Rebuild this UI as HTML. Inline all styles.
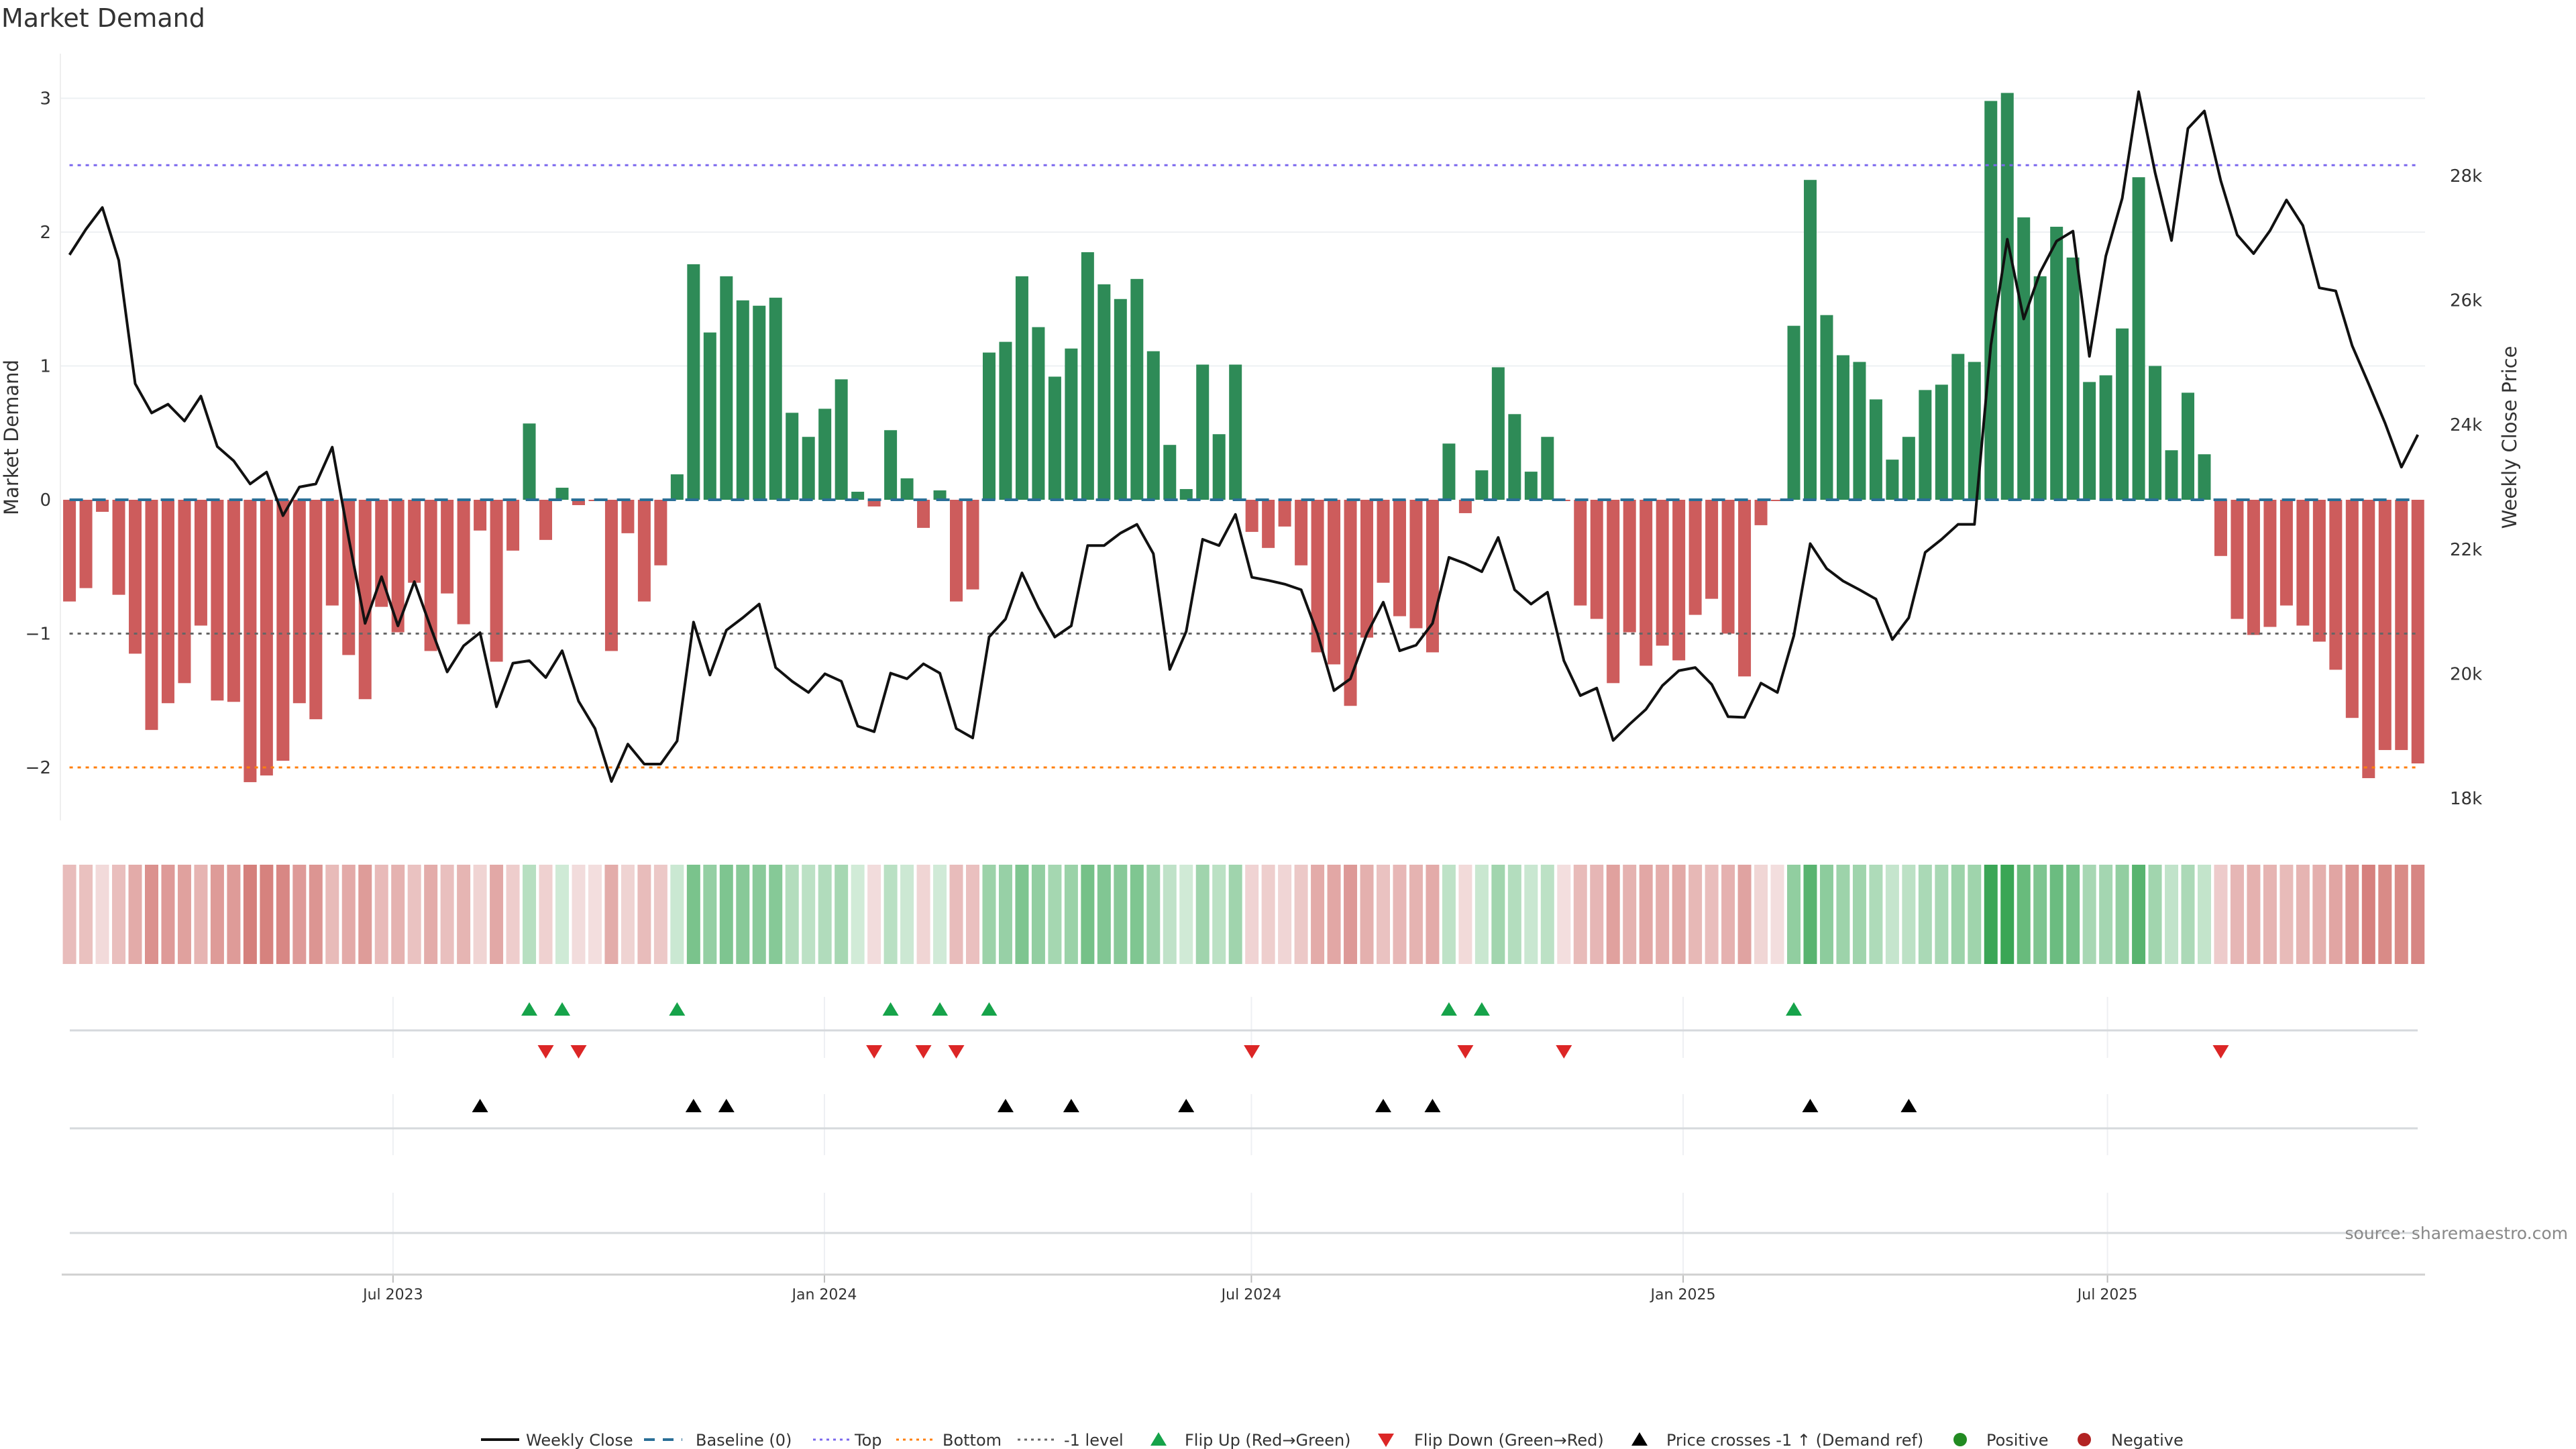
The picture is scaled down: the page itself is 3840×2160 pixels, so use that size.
<!DOCTYPE html>
<html><head><meta charset="utf-8"><style>
html,body{margin:0;padding:0;background:#fff;}
svg{display:block;font-family:"DejaVu Sans","Liberation Sans",sans-serif;}
</style></head><body>
<svg id="chart" width="3840" height="2160" viewBox="0 0 3840 2160" xmlns="http://www.w3.org/2000/svg">
<text x="2" y="40" font-size="38" fill="#333">Market Demand</text>
<g id="grid"></g><g id="refs"></g><g id="bars"></g><g id="line"></g><g id="heat"></g><g id="lower"></g><g id="axes"></g><g id="legend"></g>
<text x="3828" y="1847" font-size="25" fill="#888" text-anchor="end">source: sharemaestro.com</text>
</svg>
<script>
const demand = [-0.76,-0.66,-0.09,-0.71,-1.15,-1.72,-1.52,-1.37,-0.94,-1.50,-1.51,-2.11,-2.06,-1.95,-1.52,-1.64,-0.79,-1.16,-1.49,-0.80,-0.99,-0.62,-1.13,-0.70,-0.93,-0.23,-1.21,-0.38,0.57,-0.30,0.09,-0.04,-0.01,-1.13,-0.25,-0.76,-0.49,0.19,1.76,1.25,1.67,1.49,1.45,1.51,0.65,0.47,0.68,0.90,0.06,-0.05,0.52,0.16,-0.21,0.07,-0.76,-0.67,1.10,1.18,1.67,1.29,0.92,1.13,1.85,1.61,1.50,1.65,1.11,0.41,0.08,1.01,0.49,1.01,-0.24,-0.36,-0.20,-0.49,-1.14,-1.23,-1.54,-1.03,-0.62,-0.87,-0.96,-1.14,0.42,-0.10,0.22,0.99,0.64,0.21,0.47,-0.01,-0.79,-0.89,-1.37,-0.99,-1.24,-1.09,-1.20,-0.86,-0.74,-1.00,-1.32,-0.19,-0.01,1.30,2.39,1.38,1.08,1.03,0.75,0.30,0.47,0.82,0.86,1.09,1.03,2.98,3.04,2.11,1.67,2.04,1.81,0.88,0.93,1.28,2.41,1.00,0.37,0.80,0.34,-0.42,-0.89,-1.01,-0.95,-0.79,-0.94,-1.06,-1.27,-1.63,-2.08,-1.87,-1.87,-1.97];
const closeK = [26.73,27.14,27.49,26.64,24.66,24.19,24.33,24.06,24.46,23.65,23.42,23.05,23.24,22.54,23.00,23.05,23.64,22.18,20.81,21.56,20.77,21.48,20.74,20.03,20.45,20.66,19.47,20.17,20.21,19.94,20.37,19.56,19.12,18.27,18.87,18.55,18.55,18.92,20.83,19.98,20.70,20.90,21.12,20.10,19.88,19.70,20.00,19.88,19.16,19.07,20.01,19.92,20.16,20.01,19.12,18.97,20.59,20.88,21.62,21.06,20.59,20.77,22.06,22.06,22.26,22.40,21.93,20.07,20.68,22.16,22.06,22.56,21.55,21.50,21.44,21.35,20.64,19.73,19.92,20.64,21.15,20.37,20.46,20.81,21.87,21.77,21.64,22.19,21.35,21.12,21.31,20.21,19.65,19.77,18.93,19.19,19.43,19.81,20.05,20.10,19.83,19.31,19.30,19.85,19.70,20.61,22.09,21.69,21.49,21.35,21.20,20.55,20.90,21.95,22.16,22.40,22.40,25.28,26.98,25.70,26.45,26.95,27.11,25.10,26.71,27.64,29.35,28.05,26.96,28.76,29.04,27.92,27.05,26.75,27.12,27.61,27.20,26.20,26.15,25.27,24.66,24.03,23.32,23.84];
const flipUp = [28,30,37,50,53,56,84,86,105];
const flipDown = [29,31,49,52,54,72,85,91,131];
const priceCross = [25,38,40,57,61,68,80,83,106,112];
const leftTicks = [3,2,1,0,-1,-2];
const rightTicks = [18,20,22,24,26,28];
const dateTickLabels = ["Jul 2023","Jan 2024","Jul 2024","Jan 2025","Jul 2025"];
const dateTickIdx = [19.7,45.97,71.97,98.26,124.1];

const NS="http://www.w3.org/2000/svg";
function mk(parent,tag,attrs){const e=document.createElementNS(NS,tag);for(const k in attrs)e.setAttribute(k,attrs[k]);document.getElementById(parent).appendChild(e);return e;}
const X0=103.6, DX=24.48;
const xs=i=>X0+i*DX;
const yL=v=>745-v*199.5;
const yR=k=>262+(28-k)*92.8;
const PL=90, PR=3615;

leftTicks.forEach(t=>{
  if(t>0){const g=mk('grid','line',{x1:PL,x2:PR,y1:yL(t),y2:yL(t),stroke:'#eef0f3','stroke-width':2});
  
  }
  const tx=mk('axes','text',{x:76,y:yL(t)+9,'font-size':26,fill:'#333','text-anchor':'end'});
  tx.textContent=(t<0?'\u2212':'')+Math.abs(t);
  
  
});
mk('axes','line',{x1:PL,x2:PL,y1:80,y2:1223,stroke:'#eee','stroke-width':2});
rightTicks.forEach(t=>{
  const tx=mk('axes','text',{x:3652,y:yR(t)+9,'font-size':26,fill:'#333'});
  tx.textContent=t+'k';
  
  
});
let ty=mk('axes','text',{x:0,y:0,'font-size':29,fill:'#333','text-anchor':'middle',transform:'translate(27,652) rotate(-90)'});
ty.textContent='Market Demand';


ty=mk('axes','text',{x:0,y:0,'font-size':29,fill:'#333','text-anchor':'middle',transform:'translate(3751,652) rotate(-90)'});
ty.textContent='Weekly Close Price';



demand.forEach((v,i)=>{
  const y0=yL(0), y1=yL(v);
  const r=mk('bars','rect',{x:xs(i)-9.5,y:Math.min(y0,y1),width:19,height:Math.max(Math.abs(y1-y0),0.5),fill:v>=0?'#2e8b57':'#cd5c5c'});
  
  
});
[[2.5,'#7b68ee','5,7','top-line'],[-1,'#666','5,7','minus-one-line'],[-2,'#ff7f0e','5,7','bottom-line'],[0,'#2a6f97','20,14','baseline-line']].forEach(([v,c,d,n])=>{
  const l=mk('line','line',{x1:xs(0),x2:xs(demand.length-1),y1:yL(v),y2:yL(v),stroke:c,'stroke-width':v===0?4:3,'stroke-dasharray':d});
  
  
});
const pl=mk('line','polyline',{points:closeK.map((k,i)=>xs(i)+','+yR(k)).join(' '),fill:'none',stroke:'#111','stroke-width':4,'stroke-linejoin':'round'});



function heatColor(v){
  if(v>=0){const t=Math.min(v/3,1);return `rgb(${Math.round(212-154*t)},${Math.round(236-70*t)},${Math.round(218-133*t)})`;}
  const t=Math.min(-v/2.2,1);return `rgb(${Math.round(243-31*t)},${Math.round(222-98*t)},${Math.round(222-102*t)})`;
}
demand.forEach((v,i)=>{
  const r=mk('heat','rect',{x:xs(i)-10,y:1289,width:20,height:148,fill:heatColor(v)});
  
  
});

dateTickIdx.forEach((d,j)=>{
  const x=xs(d);
  [[1486,1577],[1631,1722],[1778,1900]].forEach(([a,b])=>{
    const g=mk('lower','line',{x1:x,x2:x,y1:a,y2:b,stroke:'#eef0f3','stroke-width':2});
    
    
  });
  mk('axes','line',{x1:x,x2:x,y1:1900,y2:1912,stroke:'#bbb','stroke-width':2});
  const t=mk('axes','text',{x:x,y:1937,'font-size':22,fill:'#333','text-anchor':'middle'});
  t.textContent=dateTickLabels[j];
  
  
});
[1536,1682,1838].forEach(y=>{const l=mk('lower','line',{x1:104,x2:3604,y1:y,y2:y,stroke:'#d6d9dc','stroke-width':3});
  
  });
mk('axes','line',{x1:92,x2:3615,y1:1900,y2:1900,stroke:'#d0d0d0','stroke-width':3});
function tri(g,x,y,up,c,name){
  const p=up?`${x-12},${y+9} ${x+12},${y+9} ${x},${y-11}`:`${x-12},${y-9} ${x+12},${y-9} ${x},${y+11}`;
  const t=mk(g,'polygon',{points:p,fill:c});
  
  
}
flipUp.forEach(i=>tri('lower',xs(i),1505,true,'#16a34a','flip-up-marker'));
flipDown.forEach(i=>tri('lower',xs(i),1567,false,'#dc2626','flip-down-marker'));
priceCross.forEach(i=>tri('lower',xs(i),1649,true,'#000','price-cross-marker'));

const LY=2146;
function legText(x,s){const t=mk('legend','text',{x:x,y:LY+9,'font-size':24,fill:'#333'});t.textContent=s;}
function legLine(x,c,d,w){const l=mk('legend','line',{x1:x,x2:x+57,y1:LY,y2:LY,stroke:c,'stroke-width':w,'stroke-dasharray':d});}
legLine(717,'#111','none',4);legText(784,'Weekly Close');
legLine(960,'#2a6f97','16,12',4);legText(1037,'Baseline (0)');
legLine(1212,'#7b68ee','4,6',3);legText(1274,'Top');
legLine(1336,'#ff7f0e','4,6',3);legText(1405,'Bottom');
legLine(1517,'#666','4,6',3);legText(1586,'-1 level');
tri('legend',1727,LY,true,'#16a34a','legend-flip-up');legText(1766,'Flip Up (Red\u2192Green)');
tri('legend',2066,LY,false,'#dc2626','legend-flip-down');legText(2108,'Flip Down (Green\u2192Red)');
tri('legend',2444,LY,true,'#000','legend-price-cross');legText(2484,'Price crosses -1 \u2191 (Demand ref)');
let c=mk('legend','circle',{cx:2922,cy:LY,r:10,fill:'#228b22'});legText(2961,'Positive');
c=mk('legend','circle',{cx:3107,cy:LY,r:10,fill:'#b22222'});legText(3147,'Negative');
</script>
</body></html>
